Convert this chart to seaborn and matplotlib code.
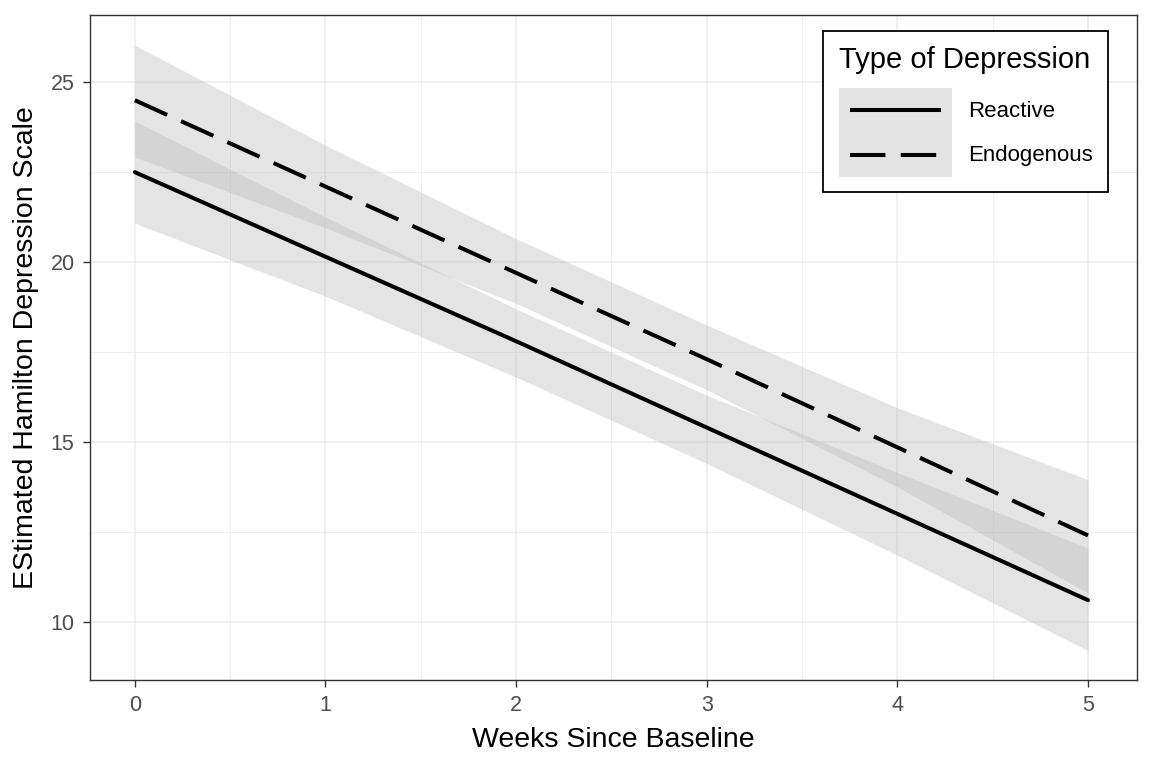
import matplotlib
matplotlib.use("Agg")
import matplotlib.pyplot as plt
import seaborn as sns
import pandas as pd
from matplotlib.patches import Rectangle
from matplotlib.lines import Line2D
from matplotlib.legend_handler import HandlerBase
from matplotlib.ticker import MultipleLocator

# estimated values
weeks = [0, 1, 2, 3, 4, 5]
reactive_est = [22.5, 20.15, 17.8, 15.4, 13.0, 10.6]
reactive_lo = [21.08, 19.05, 16.8, 14.4, 11.85, 9.2]
reactive_hi = [23.92, 21.25, 18.7, 16.3, 14.15, 12.05]
endog_est = [24.5, 22.1, 19.7, 17.3, 14.85, 12.4]
endog_lo = [22.92, 20.95, 18.85, 16.45, 13.75, 10.8]
endog_hi = [26.03, 23.25, 20.65, 18.25, 15.95, 13.95]
types = ["Reactive", "Endogenous"]

df = pd.DataFrame({
    "week": weeks * 2,
    "est": reactive_est + endog_est,
    "lo": reactive_lo + endog_lo,
    "hi": reactive_hi + endog_hi,
    "type": ["Reactive"] * 6 + ["Endogenous"] * 6,
})

sns.set_style("white")
plt.rcParams["font.family"] = ["Liberation Sans", "DejaVu Sans"]
plt.rcParams["text.color"] = "black"
plt.rcParams["axes.labelcolor"] = "black"

fig = plt.figure(figsize=(11.52, 7.68), dpi=100)
ax = fig.add_axes([0.078, 0.115, 0.909, 0.865])

grey = "#e3e3e3"
dash = (8.8, 3.8)
for t in types:
    d = df[df["type"] == t]
    ax.fill_between(d["week"], d["lo"], d["hi"], color="#bdbdbd", alpha=0.4, lw=0, zorder=2)

sns.lineplot(data=df, x="week", y="est", style="type", style_order=types,
             dashes={"Reactive": "", "Endogenous": dash},
             color="black", linewidth=2.9, ax=ax, legend=False, zorder=3)

ax.set_xlim(-0.236, 5.257)
ax.set_ylim(8.39, 26.86)
ax.xaxis.set_major_locator(MultipleLocator(1))
ax.xaxis.set_minor_locator(MultipleLocator(0.5))
ax.yaxis.set_major_locator(MultipleLocator(5))
ax.yaxis.set_minor_locator(MultipleLocator(2.5))
ax.grid(which="major", color="#ebebeb", linewidth=1.1, zorder=0)
ax.grid(which="minor", color="#ebebeb", linewidth=0.6, zorder=0)
ax.set_axisbelow(True)
for s in ax.spines.values():
    s.set_color("#333333")
    s.set_linewidth(1.0)
ax.tick_params(axis="both", which="major", length=5, width=1, color="#333333",
               labelsize=15.5, labelcolor="#4d4d4d", direction="out", bottom=True, left=True, pad=6)
ax.tick_params(axis="both", which="minor", length=0)

ax.set_xlabel("Weeks Since Baseline", fontsize=20.5, labelpad=8)
ax.set_ylabel("EStimated Hamilton Depression Scale", fontsize=20.5, labelpad=8)


class KeyHandler(HandlerBase):
    # grey key box with the line drawn inset, like a ggplot legend key
    def create_artists(self, legend, orig, xd, yd, width, height, fontsize, trans):
        rect = Rectangle((-xd, -yd), width, height,
                         facecolor=grey, edgecolor="none", transform=trans)
        pad = width * 0.1
        y = -yd + height / 2
        ln = Line2D([-xd + pad, -xd + width - pad], [y, y], color="black",
                    lw=2.9, solid_capstyle="butt", transform=trans)
        if orig.get_linestyle() != "-":
            ln.set_dashes(dash)
        return [rect, ln]


handles = [Line2D([0], [0], color="black", linestyle="-"),
           Line2D([0], [0], color="black", linestyle="--")]
leg = ax.legend(handles, types, title="Type of Depression", loc="upper right",
                bbox_to_anchor=(0.972, 0.977), borderaxespad=0,
                fontsize=16, title_fontsize=21,
                frameon=True, fancybox=False, edgecolor="black", framealpha=1,
                handlelength=5.1, handleheight=2.72, labelspacing=0, handletextpad=0.72,
                borderpad=0.68, alignment="left",
                handler_map={Line2D: KeyHandler()})
leg.get_frame().set_linewidth(1.3)
leg._legend_box.sep = 10  # space between title and keys

fig.savefig("out.png", dpi=100)
